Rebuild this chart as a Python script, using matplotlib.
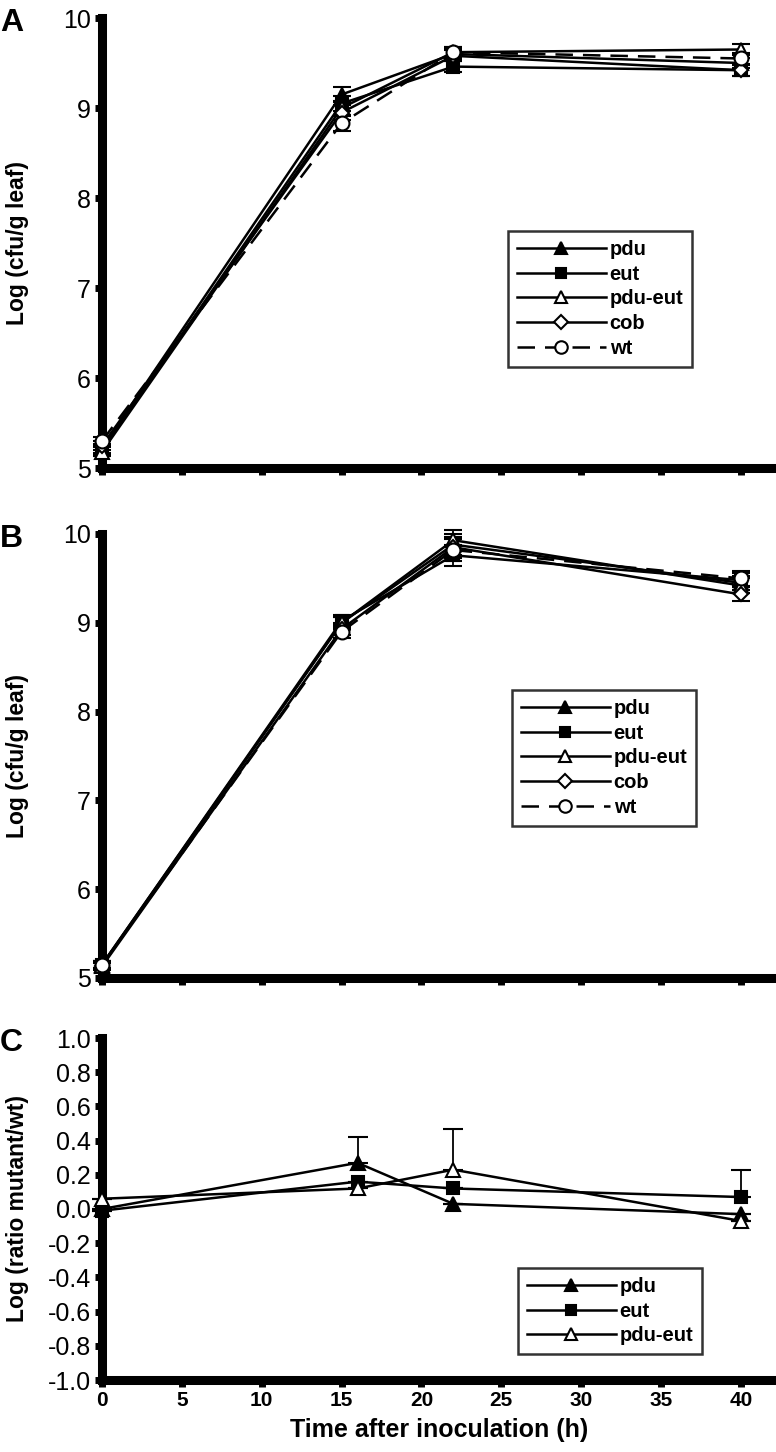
import matplotlib
matplotlib.use("Agg")
import matplotlib.pyplot as plt
from matplotlib.lines import Line2D
import numpy as np

plt.rcParams['font.family'] = ['Liberation Sans', 'DejaVu Sans']

# panel A: leaf population, time points
t_ab = [0, 15, 22, 40]
a_pdu = [5.22, 9.15, 9.60, 9.50]
a_eut = [5.20, 9.05, 9.46, 9.42]
a_pdueut = [5.18, 9.00, 9.62, 9.65]
a_cob = [5.25, 8.95, 9.58, 9.42]
a_wt = [5.30, 8.83, 9.62, 9.55]
a_err = [0.05, 0.08, 0.06, 0.06]

# panel B
b_pdu = [5.15, 9.00, 9.88, 9.45]
b_eut = [5.15, 9.02, 9.76, 9.48]
b_pdueut = [5.14, 9.00, 9.93, 9.42]
b_cob = [5.13, 8.93, 9.85, 9.32]
b_wt = [5.15, 8.90, 9.82, 9.50]
b_err = [0.04, 0.07, 0.12, 0.08]

# panel C: log ratio mutant/wt
t_c = [0, 16, 22, 40]
c_pdu = [0.00, 0.27, 0.03, -0.03]
c_eut = [-0.01, 0.16, 0.12, 0.07]
c_pdueut = [0.06, 0.12, 0.23, -0.07]
c_pdu_err = [0.0, 0.15, 0.0, 0.0]
c_eut_err = [0.0, 0.0, 0.0, 0.16]
c_pdueut_err = [0.0, 0.0, 0.24, 0.0]
c_ticks = [-1.0, -0.8, -0.6, -0.4, -0.2, 0.0, 0.2, 0.4, 0.6, 0.8, 1.0]

W, H = 776, 1452
fig = plt.figure(figsize=(W / 100, H / 100), dpi=100)

def box(top, bottom, left=102, right=776):
    return [left / W, 1 - bottom / H, (right - left) / W, (bottom - top) / H]

styles = [
    ('pdu', '^', 'black', '-'),
    ('eut', 's', 'black', '-'),
    ('pdu-eut', '^', 'white', '-'),
    ('cob', 'D', 'white', '-'),
    ('wt', 'o', 'white', '--'),
]

def msize(m):
    return {'D': 7.5, 's': 8.5}.get(m, 10)

def style_axes(ax):
    for s in ['top', 'right']:
        ax.spines[s].set_visible(False)
    for s in ['left', 'bottom']:
        ax.spines[s].set_linewidth(6.5)
        ax.spines[s].set_capstyle('projecting')
    ax.tick_params(axis='both', direction='out', length=5, width=5, pad=3)
    ax.set_xlim(0, 42.2)
    ax.set_xticks(range(0, 45, 5))
    ax.yaxis.set_label_coords(-0.108, 0.5)

def draw(ax, t, series, errs, n):
    for (name, m, fc, ls), y, e in zip(styles[:n], series, errs):
        ax.errorbar(t, y, yerr=e, color='black', lw=1.8, marker=m,
                    mfc=fc, mec='black', mew=1.5, ms=msize(m), capsize=6.5,
                    elinewidth=1.3, capthick=1.6,
                    dashes=(7, 4) if ls == '--' else (None, None),
                    clip_on=False, zorder=3)

def legend(ax, x0, y0, n):
    handles = []
    for name, m, fc, ls in styles[:n]:
        handles.append(Line2D([], [], color='black', lw=1.8, marker=m, mfc=fc,
                              mec='black', mew=1.5, ms=msize(m) * 0.9,
                              dashes=(7, 4) if ls == '--' else (None, None)))
    lg = fig.legend(handles, [s[0] for s in styles[:n]], loc='upper left',
                    bbox_to_anchor=(x0 / W, 1 - y0 / H), frameon=True,
                    fancybox=False, handlelength=4.4, handletextpad=0.2,
                    labelspacing=0.28, borderpad=0.45, borderaxespad=0,
                    numpoints=1, prop={'weight': 'bold', 'size': 14.5})
    lg.get_frame().set_edgecolor('black')
    lg.get_frame().set_linewidth(1.8)

# panel A
axA = fig.add_axes(box(18, 468))
style_axes(axA)
draw(axA, t_ab, [a_pdu, a_eut, a_pdueut, a_cob, a_wt], [a_err] * 5, 5)
axA.set_ylim(5, 10)
axA.set_yticks(range(5, 11))
axA.tick_params(axis='y', labelsize=18)
axA.set_xticklabels([])
axA.set_ylabel('Log (cfu/g leaf)', fontsize=16.5, fontweight='bold')
legend(axA, 508, 231, 5)
fig.text(0, 1 - 8 / H, 'A', fontsize=23, fontweight='bold', va='top')

# panel B
axB = fig.add_axes(box(534, 978))
style_axes(axB)
draw(axB, t_ab, [b_pdu, b_eut, b_pdueut, b_cob, b_wt], [b_err] * 5, 5)
axB.set_ylim(5, 10)
axB.set_yticks(range(5, 11))
axB.tick_params(axis='y', labelsize=18)
axB.set_xticklabels([])
axB.set_ylabel('Log (cfu/g leaf)', fontsize=16.5, fontweight='bold')
legend(axB, 512, 690, 5)
fig.text(0, 1 - 524 / H, 'B', fontsize=23, fontweight='bold', va='top')

# panel C
axC = fig.add_axes(box(1038, 1380))
style_axes(axC)
for (name, m, fc, ls), y, e in zip(styles[:3], [c_pdu, c_eut, c_pdueut],
                                    [c_pdu_err, c_eut_err, c_pdueut_err]):
    axC.errorbar(t_c, y, yerr=[np.zeros(4), e], color='black', lw=1.8,
                 marker=m, mfc=fc, mec='black', mew=1.5, ms=msize(m),
                 capsize=7, elinewidth=1.3, capthick=1.6, clip_on=False,
                 zorder=3)
axC.set_ylim(-1, 1)
axC.set_yticks(c_ticks)
axC.set_yticklabels(['%.1f' % v for v in c_ticks])
axC.tick_params(axis='y', labelsize=18)
axC.tick_params(axis='x', labelsize=15)
for lab in axC.get_xticklabels():
    lab.set_fontweight('bold')
axC.set_ylabel('Log (ratio mutant/wt)', fontsize=16.5, fontweight='bold')
axC.set_xlabel('Time after inoculation (h)', fontsize=18, fontweight='bold',
               labelpad=6)
legend(axC, 518, 1268, 3)
fig.text(0, 1 - 1028 / H, 'C', fontsize=23, fontweight='bold', va='top')

fig.savefig('out.png', dpi=100)
